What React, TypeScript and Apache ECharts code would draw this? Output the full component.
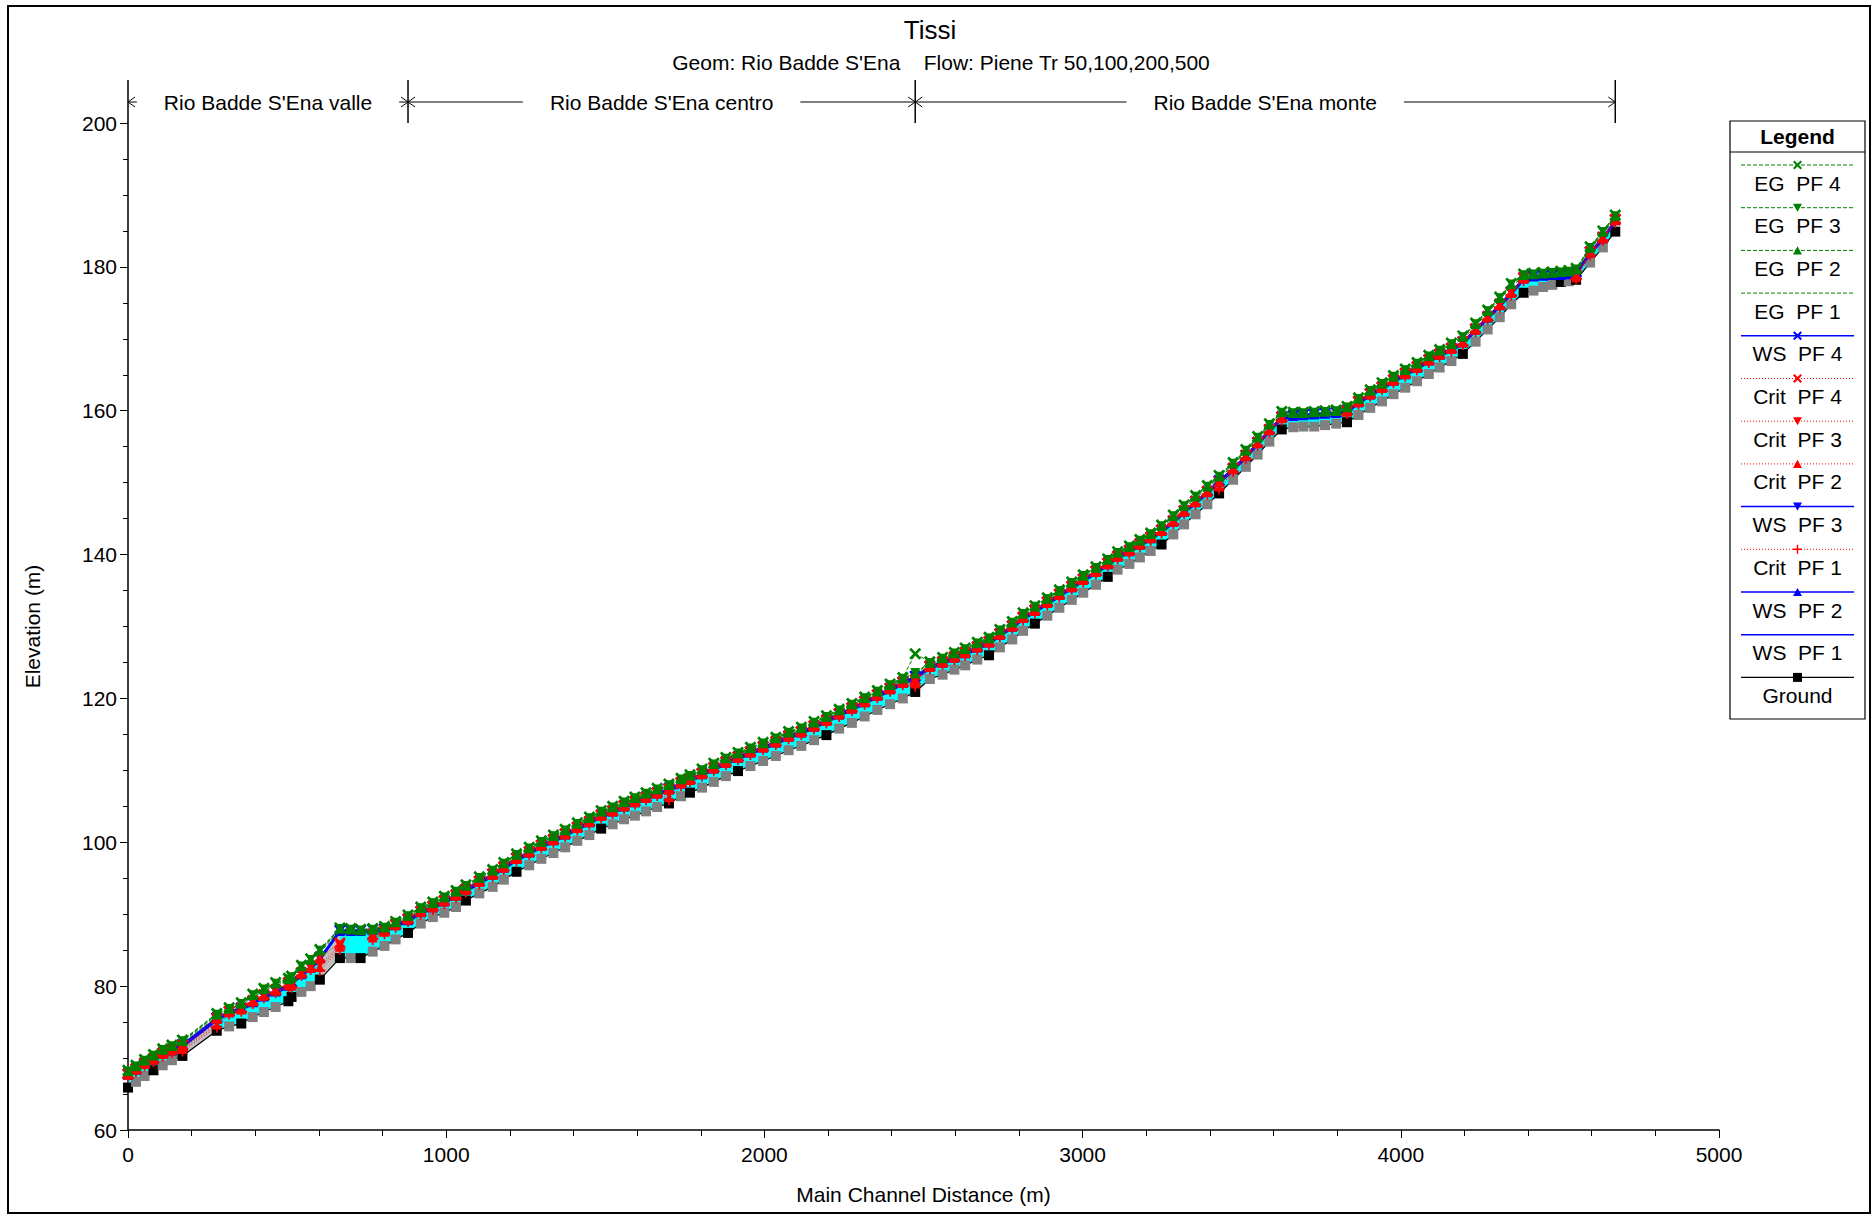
import { useEffect, useRef } from "react";
import * as echarts from "echarts";

// ---------------- DATA ----------------
const titleText = "Tissi";
const subtitleText = "Geom: Rio Badde S'Ena    Flow: Piene Tr 50,100,200,500";
const xAxisName = "Main Channel Distance (m)";
const yAxisName = "Elevation (m)";
const xMin = 0, xMax = 5000, xInterval = 1000;
const yMin = 60, yMax = 200, yInterval = 20;

const reachBounds = [0, 880, 2474, 4674];
const reachNames = ["Rio Badde S'Ena valle", "Rio Badde S'Ena centro", "Rio Badde S'Ena monte"];

const stations = [0,25,52,80,109,138,171,279,318,356,392,427,464,504,514,545,574,603,666,700,731,769,806,841,880,920,958,994,1031,1062,1104,1146,1181,1221,1261,1299,1337,1374,1412,1450,1487,1523,1559,1593,1628,1663,1700,1738,1766,1804,1841,1879,1917,1956,1996,2036,2076,2116,2156,2195,2235,2275,2315,2355,2395,2435,2474,2520,2560,2597,2631,2669,2706,2740,2779,2813,2850,2889,2927,2966,3002,3042,3079,3110,3147,3180,3214,3248,3285,3319,3355,3392,3429,3473,3513,3550,3587,3626,3662,3694,3728,3762,3797,3831,3867,3904,3941,3977,4014,4051,4088,4122,4159,4195,4235,4273,4311,4347,4386,4417,4447,4476,4503,4528,4551,4595,4635,4674];

const surveyed = [0,80,171,279,356,504,514,603,666,731,880,1062,1221,1487,1700,1766,1917,2195,2474,2706,2850,3079,3248,3429,3626,3831,4195,4386,4503,4551,4674];

// reaches between sections drawn with a grey (non-cyan) fill
const greySegments = [[171, 279], [603, 666]];

const ground = [65.9,66.7,67.5,68.3,69.0,69.7,70.3,73.8,74.4,74.8,75.7,76.4,77.1,77.9,78.5,79.2,80.0,80.9,83.9,83.9,83.9,84.8,85.6,86.5,87.4,88.7,89.6,90.2,91.0,91.9,92.9,93.8,94.8,95.9,96.8,97.7,98.5,99.3,100.2,101.0,101.9,102.5,103.2,103.7,104.3,104.9,105.4,106.4,106.9,107.6,108.4,109.2,109.9,110.6,111.3,112.0,112.8,113.4,114.2,114.9,115.8,116.6,117.5,118.4,119.2,120.0,120.9,122.7,123.3,124.0,124.6,125.4,126.0,127.1,128.2,129.4,130.4,131.5,132.6,133.7,134.7,135.8,136.9,137.9,138.7,139.6,140.5,141.4,142.8,144.2,145.6,147.0,148.5,150.4,152.2,153.9,155.7,157.4,157.7,157.8,157.8,158.0,158.2,158.4,159.4,160.4,161.3,162.3,163.2,164.1,165.1,166.0,166.9,167.9,169.6,171.3,173.0,174.8,176.4,176.7,177.2,177.5,177.9,178.0,178.2,180.6,182.7,184.9];

const wsPF4 = [67.8,68.5,69.3,69.9,70.7,71.2,71.9,75.6,76.5,77.0,77.9,78.7,79.4,80.2,80.6,81.8,82.7,84.0,87.8,87.8,87.8,87.9,88.0,88.6,89.3,90.4,91.1,91.9,92.7,93.5,94.6,95.6,96.6,97.8,98.7,99.6,100.4,101.2,102.1,102.9,103.8,104.4,105.1,105.7,106.3,106.9,107.5,108.3,108.8,109.6,110.4,111.2,111.9,112.6,113.3,114.0,114.8,115.4,116.2,117.0,117.9,118.7,119.6,120.5,121.4,122.3,123.1,124.5,125.1,125.8,126.4,127.2,127.9,129.0,130.1,131.3,132.3,133.4,134.5,135.6,136.6,137.7,138.8,139.8,140.6,141.5,142.4,143.4,144.7,146.1,147.4,148.8,150.3,152.0,153.8,155.6,157.4,159.2,159.4,159.5,159.6,159.7,159.8,160.1,161.3,162.4,163.3,164.3,165.2,166.1,167.1,167.9,168.7,169.6,171.4,173.1,174.8,176.5,178.5,178.8,178.9,179.0,179.0,179.1,179.3,182.1,184.1,186.6];
const wsPF3 = [67.7,68.4,69.2,69.8,70.6,71.1,71.8,75.5,76.4,76.9,77.8,78.6,79.3,80.1,80.5,81.7,82.6,83.9,87.7,87.7,87.7,87.8,87.9,88.5,89.2,90.3,91.0,91.8,92.6,93.4,94.5,95.5,96.5,97.7,98.6,99.5,100.3,101.1,102.0,102.8,103.7,104.3,105.0,105.6,106.2,106.8,107.4,108.2,108.7,109.5,110.3,111.1,111.8,112.5,113.2,113.9,114.7,115.3,116.1,116.9,117.8,118.6,119.5,120.4,121.3,122.2,123.0,124.4,125.0,125.7,126.3,127.1,127.8,128.9,130.0,131.2,132.2,133.3,134.4,135.5,136.5,137.6,138.7,139.7,140.5,141.4,142.3,143.3,144.6,146.0,147.3,148.7,150.2,151.9,153.7,155.5,157.3,159.1,159.3,159.4,159.5,159.6,159.7,160.0,161.2,162.3,163.2,164.2,165.1,166.0,167.0,167.8,168.6,169.5,171.3,173.0,174.7,176.4,178.4,178.7,178.8,178.9,178.9,179.0,179.2,182.0,184.0,186.5];
const wsPF2 = [67.6,68.3,69.1,69.7,70.5,71.0,71.7,75.4,76.3,76.8,77.7,78.5,79.2,80.0,80.4,81.6,82.5,83.8,87.6,87.6,87.6,87.7,87.8,88.4,89.1,90.2,90.9,91.7,92.5,93.3,94.4,95.4,96.4,97.6,98.5,99.4,100.2,101.0,101.9,102.7,103.6,104.2,104.9,105.5,106.1,106.7,107.3,108.1,108.6,109.4,110.2,111.0,111.7,112.4,113.1,113.8,114.6,115.2,116.0,116.8,117.7,118.5,119.4,120.3,121.2,122.1,122.9,124.3,124.9,125.6,126.2,127.0,127.7,128.8,129.9,131.1,132.1,133.2,134.3,135.4,136.4,137.5,138.6,139.6,140.4,141.3,142.2,143.2,144.5,145.9,147.2,148.6,150.1,151.8,153.6,155.4,157.2,159.0,159.2,159.3,159.4,159.5,159.6,159.9,161.1,162.2,163.1,164.1,165.0,165.9,166.9,167.7,168.5,169.4,171.2,172.9,174.6,176.3,178.3,178.6,178.7,178.8,178.8,178.9,179.1,181.9,183.9,186.4];
const wsPF1 = [67.4,68.1,68.9,69.5,70.3,70.8,71.5,75.2,76.1,76.6,77.5,78.3,79.0,79.8,80.2,81.4,82.3,83.6,87.5,87.5,87.5,87.6,87.7,88.2,88.9,90.0,90.7,91.5,92.3,93.1,94.2,95.2,96.2,97.4,98.3,99.2,100.0,100.8,101.7,102.5,103.4,104.0,104.7,105.3,105.9,106.5,107.1,107.9,108.4,109.2,110.0,110.8,111.5,112.2,112.9,113.6,114.4,115.0,115.8,116.6,117.5,118.3,119.2,120.1,121.0,121.9,122.7,124.1,124.7,125.4,126.0,126.8,127.5,128.6,129.7,130.9,131.9,133.0,134.1,135.2,136.2,137.3,138.4,139.4,140.2,141.1,142.0,143.0,144.3,145.7,147.0,148.4,149.9,151.6,153.4,155.2,157.0,158.8,159.1,159.2,159.3,159.4,159.5,159.7,160.9,162.0,162.9,163.9,164.8,165.7,166.7,167.5,168.3,169.2,171.0,172.7,174.4,176.1,178.1,178.5,178.6,178.7,178.7,178.8,178.9,181.7,183.7,186.2];

const egPF4 = [68.3,69.0,69.8,70.5,71.3,71.8,72.5,76.2,77.0,77.7,78.9,79.7,80.5,81.1,81.4,82.9,83.8,85.1,88.1,88.0,87.9,88.0,88.3,89.0,89.9,91.0,91.7,92.5,93.3,94.1,95.2,96.2,97.2,98.4,99.3,100.2,101.0,101.8,102.7,103.5,104.4,105.0,105.7,106.3,106.9,107.5,108.1,108.9,109.4,110.2,111.0,111.8,112.5,113.2,113.9,114.6,115.4,116.0,116.8,117.6,118.5,119.3,120.2,121.1,122.0,122.9,126.2,125.1,125.7,126.4,127.0,127.8,128.5,129.6,130.7,131.9,132.9,134.0,135.1,136.2,137.2,138.3,139.4,140.4,141.2,142.1,143.0,144.1,145.5,146.9,148.2,149.6,151.0,152.8,154.6,156.4,158.2,159.9,159.8,159.8,159.9,160.0,160.1,160.6,161.8,162.9,163.9,164.9,165.8,166.7,167.7,168.5,169.4,170.4,172.2,174.0,175.8,177.7,179.0,179.1,179.2,179.3,179.4,179.5,179.8,182.8,185.0,187.2];
const egPF3 = [68.2,68.9,69.7,70.4,71.2,71.7,72.4,76.1,76.9,77.6,78.8,79.6,80.4,81.0,81.3,82.8,83.7,85.0,88.0,87.9,87.8,87.9,88.2,88.9,89.8,90.9,91.6,92.4,93.2,94.0,95.1,96.1,97.1,98.3,99.2,100.1,100.9,101.7,102.6,103.4,104.3,104.9,105.6,106.2,106.8,107.4,108.0,108.8,109.3,110.1,110.9,111.7,112.4,113.1,113.8,114.5,115.3,115.9,116.7,117.5,118.4,119.2,120.1,121.0,121.9,122.8,123.6,125.0,125.6,126.3,126.9,127.7,128.4,129.5,130.6,131.8,132.8,133.9,135.0,136.1,137.1,138.2,139.3,140.3,141.1,142.0,142.9,144.0,145.4,146.8,148.1,149.5,150.9,152.7,154.5,156.3,158.1,159.8,159.7,159.7,159.8,159.9,160.0,160.5,161.7,162.8,163.8,164.8,165.7,166.6,167.6,168.4,169.3,170.3,172.1,173.9,175.7,177.6,178.9,179.0,179.1,179.2,179.3,179.4,179.7,182.7,184.9,187.1];
const egPF2 = [68.1,68.8,69.6,70.3,71.1,71.6,72.3,76.0,76.8,77.5,78.7,79.5,80.3,80.9,81.2,82.7,83.6,84.9,87.9,87.8,87.7,87.8,88.1,88.8,89.7,90.8,91.5,92.3,93.1,93.9,95.0,96.0,97.0,98.2,99.1,100.0,100.8,101.6,102.5,103.3,104.2,104.8,105.5,106.1,106.7,107.3,107.9,108.7,109.2,110.0,110.8,111.6,112.3,113.0,113.7,114.4,115.2,115.8,116.6,117.4,118.3,119.1,120.0,120.9,121.8,122.7,123.4,124.9,125.5,126.2,126.8,127.6,128.3,129.4,130.5,131.7,132.7,133.8,134.9,136.0,137.0,138.1,139.2,140.2,141.0,141.9,142.8,143.9,145.3,146.7,148.0,149.4,150.8,152.6,154.4,156.2,158.0,159.7,159.6,159.6,159.7,159.8,159.9,160.4,161.6,162.7,163.7,164.7,165.6,166.5,167.5,168.3,169.2,170.2,172.0,173.8,175.6,177.5,178.8,178.9,179.0,179.1,179.2,179.3,179.6,182.6,184.8,187.0];
const egPF1 = [67.9,68.6,69.4,70.1,70.9,71.4,72.1,75.8,76.6,77.3,78.5,79.3,80.1,80.7,81.0,82.5,83.4,84.7,87.7,87.6,87.5,87.6,87.9,88.6,89.5,90.6,91.3,92.1,92.9,93.7,94.8,95.8,96.8,98.0,98.9,99.8,100.6,101.4,102.3,103.1,104.0,104.6,105.3,105.9,106.5,107.1,107.7,108.5,109.0,109.8,110.6,111.4,112.1,112.8,113.5,114.2,115.0,115.6,116.4,117.2,118.1,118.9,119.8,120.7,121.6,122.5,123.1,124.7,125.3,126.0,126.6,127.4,128.1,129.2,130.3,131.5,132.5,133.6,134.7,135.8,136.8,137.9,139.0,140.0,140.8,141.7,142.6,143.7,145.1,146.5,147.8,149.2,150.6,152.4,154.2,156.0,157.8,159.5,159.4,159.4,159.5,159.6,159.7,160.2,161.4,162.5,163.5,164.5,165.4,166.3,167.3,168.1,169.0,170.0,171.8,173.6,175.4,177.3,178.6,178.7,178.8,178.9,179.0,179.1,179.4,182.4,184.6,186.8];

const critPF4 = [67.8,68.5,69.3,69.9,70.7,71.2,71.8,75.5,76.5,76.9,78.0,78.8,79.5,80.5,80.4,81.9,82.7,84.0,86.0,null,null,87.2,87.7,88.6,89.4,90.4,91.1,91.9,92.7,93.5,94.6,95.6,96.6,97.8,98.7,99.6,100.4,101.2,102.1,102.9,103.8,104.4,105.1,105.7,106.3,106.9,107.4,108.3,108.8,109.6,110.4,111.2,111.9,112.6,113.3,114.0,114.8,115.4,116.2,117.0,117.9,118.7,119.6,120.5,121.4,122.3,122.6,124.5,125.1,125.8,126.4,127.2,127.9,129.0,130.1,131.3,132.3,133.4,134.5,135.6,136.6,137.7,138.8,139.8,140.6,141.5,142.4,143.4,144.7,146.1,147.4,148.8,150.1,152.0,153.8,155.6,157.4,159.1,null,null,null,null,null,160.0,161.3,162.4,163.3,164.3,165.2,166.1,167.1,167.9,168.7,169.6,171.4,173.1,174.8,176.5,178.5,null,null,null,null,null,178.9,182.1,184.1,186.6];
const critPF3 = [67.7,68.4,69.2,69.8,70.6,71.1,71.4,74.9,76.4,76.8,77.9,78.7,79.4,80.3,80.2,81.8,82.6,83.0,85.7,null,null,86.9,87.6,88.5,89.3,90.3,91.0,91.8,92.6,93.4,94.5,95.5,96.5,97.7,98.6,99.5,100.3,101.1,102.0,102.8,103.7,104.3,105.0,105.6,106.2,106.8,106.6,108.2,108.7,109.5,110.3,111.1,111.8,112.5,113.2,113.9,114.7,115.3,116.1,116.9,117.8,118.6,119.5,120.4,121.3,122.2,122.3,124.4,125.0,125.7,126.3,127.1,127.8,128.9,130.0,131.2,132.2,133.3,134.4,135.5,136.5,137.6,138.7,139.7,140.5,141.4,142.3,143.3,144.6,146.0,147.3,148.7,149.7,151.9,153.7,155.5,157.3,159.0,null,null,null,null,null,159.9,161.2,162.3,163.2,164.2,165.1,166.0,167.0,167.8,168.6,169.5,171.3,173.0,174.7,176.4,178.4,null,null,null,null,null,178.7,182.0,184.0,186.5];
const critPF2 = [67.6,68.3,69.1,69.7,70.5,71.0,71.2,74.6,76.3,76.7,77.8,78.6,79.3,80.1,80.0,81.7,82.5,82.6,85.4,null,null,86.7,87.5,88.4,89.2,90.2,90.9,91.7,92.5,93.3,94.4,95.4,96.4,97.6,98.5,99.4,100.2,101.0,101.9,102.7,103.6,104.2,104.9,105.5,106.1,106.7,106.2,108.1,108.6,109.4,110.2,111.0,111.7,112.4,113.1,113.8,114.6,115.2,116.0,116.8,117.7,118.5,119.4,120.3,121.2,122.1,122.0,124.3,124.9,125.6,126.2,127.0,127.7,128.8,129.9,131.1,132.1,133.2,134.3,135.4,136.4,137.5,138.6,139.6,140.4,141.3,142.2,143.2,144.5,145.9,147.2,148.6,149.4,151.8,153.6,155.4,157.2,158.9,null,null,null,null,null,159.8,161.1,162.2,163.1,164.1,165.0,165.9,166.9,167.7,168.5,169.4,171.2,172.9,174.6,176.3,178.3,null,null,null,null,null,178.5,181.9,183.9,186.4];
const critPF1 = [67.4,68.1,68.9,69.5,70.3,70.8,71.0,74.3,76.1,76.5,77.6,78.4,79.1,79.9,79.8,81.5,82.3,82.2,85.1,null,null,86.5,87.3,88.2,89.0,90.0,90.7,91.5,92.3,93.1,94.2,95.2,96.2,97.4,98.3,99.2,100.0,100.8,101.7,102.5,103.4,104.0,104.7,105.3,105.9,106.5,105.9,107.9,108.4,109.2,110.0,110.8,111.5,112.2,112.9,113.6,114.4,115.0,115.8,116.6,117.5,118.3,119.2,120.1,121.0,121.9,121.7,124.1,124.7,125.4,126.0,126.8,127.5,128.6,129.7,130.9,131.9,133.0,134.1,135.2,136.2,137.3,138.4,139.4,140.2,141.1,142.0,143.0,144.3,145.7,147.0,148.4,149.1,151.6,153.4,155.2,157.0,158.7,null,null,null,null,null,159.6,160.9,162.0,162.9,163.9,164.8,165.7,166.7,167.5,168.3,169.2,171.0,172.7,174.4,176.1,178.1,null,null,null,null,null,178.3,181.7,183.7,186.2];

// ---------------- STYLE ----------------
const FONT = '"Liberation Sans", Arial, Helvetica, sans-serif';
const FS = 21;
const GREEN = "#008000";
const BLUE = "#0000ff";
const RED = "#ff0000";
const CYAN = "#00ffff";
const GREY_FILL = "#c0c0c0";

const X_PTS = [[0,1.6],[1.6,0],[5,3.4],[8.4,0],[10,1.6],[6.6,5],[10,8.4],[8.4,10],[5,6.6],[1.6,10],[0,8.4],[3.4,5]];
const PLUS_PTS = [[4.2,0],[5.8,0],[5.8,4.2],[10,4.2],[10,5.8],[5.8,5.8],[5.8,10],[4.2,10],[4.2,5.8],[0,5.8],[0,4.2],[4.2,4.2]];
const DOWN_PTS = [[0,0.5],[10,0.5],[5,9.5]];
const UP_PTS = [[5,0.5],[10,9.5],[0,9.5]];
const toPath = (pts: number[][]) => "path://" + pts.map((p, i) => (i ? "L" : "M") + p[0] + "," + p[1]).join("") + "Z";
const SYM: Record<string, string> = {
  x: toPath(X_PTS),
  plus: toPath(PLUS_PTS),
  down: toPath(DOWN_PTS),
  up: toPath(UP_PTS),
  square: "rect",
  none: "none",
};
const SYM_SIZE: Record<string, number> = { x: 12, plus: 11, down: 10, up: 10, square: 10, none: 0 };
const SHAPE_PTS: Record<string, number[][]> = { x: X_PTS, plus: PLUS_PTS, down: DOWN_PTS, up: UP_PTS };

type Def = { name: string; data: (number | null)[]; color: string; dash: string; shape: string; width: number };

// legend order (top to bottom)
const legendDefs: Def[] = [
  { name: "EG  PF 4", data: egPF4, color: GREEN, dash: "dashed", shape: "x", width: 1 },
  { name: "EG  PF 3", data: egPF3, color: GREEN, dash: "dashed", shape: "down", width: 1 },
  { name: "EG  PF 2", data: egPF2, color: GREEN, dash: "dashed", shape: "up", width: 1 },
  { name: "EG  PF 1", data: egPF1, color: GREEN, dash: "dashed", shape: "none", width: 1 },
  { name: "WS  PF 4", data: wsPF4, color: BLUE, dash: "solid", shape: "x", width: 1.5 },
  { name: "Crit  PF 4", data: critPF4, color: RED, dash: "dotted", shape: "x", width: 1 },
  { name: "Crit  PF 3", data: critPF3, color: RED, dash: "dotted", shape: "down", width: 1 },
  { name: "Crit  PF 2", data: critPF2, color: RED, dash: "dotted", shape: "up", width: 1 },
  { name: "WS  PF 3", data: wsPF3, color: BLUE, dash: "solid", shape: "down", width: 1.5 },
  { name: "Crit  PF 1", data: critPF1, color: RED, dash: "dotted", shape: "plus", width: 1 },
  { name: "WS  PF 2", data: wsPF2, color: BLUE, dash: "solid", shape: "up", width: 1.5 },
  { name: "WS  PF 1", data: wsPF1, color: BLUE, dash: "solid", shape: "none", width: 1.5 },
  { name: "Ground", data: ground, color: "#000000", dash: "solid", shape: "square", width: 1.2 },
];

const dashArr = (d: string) => (d === "dashed" ? [4, 2] : d === "dotted" ? [1, 2] : undefined);

function lineSeries(def: Def, z: number) {
  return {
    type: "line",
    name: def.name,
    data: stations.map((x, i) => [x, def.data[i] == null ? "-" : def.data[i]]),
    showAllSymbol: true,
    symbol: SYM[def.shape],
    symbolSize: SYM_SIZE[def.shape],
    symbolKeepAspect: true,
    connectNulls: false,
    lineStyle: { color: def.color, width: def.width, type: dashArr(def.dash) || "solid" },
    itemStyle: { color: def.color, borderWidth: 0 },
    z,
    silent: true,
  };
}

function markerGraphic(shape: string, cx: number, cy: number, size: number, color: string) {
  if (shape === "none") return null;
  if (shape === "square") {
    return { type: "rect", shape: { x: cx - size / 2, y: cy - size / 2, width: size, height: size }, style: { fill: color } };
  }
  const pts = SHAPE_PTS[shape].map((p) => [cx - size / 2 + (p[0] * size) / 10, cy - size / 2 + (p[1] * size) / 10]);
  return { type: "polygon", shape: { points: pts }, style: { fill: color } };
}

function measure(text: string, size: number) {
  const c = document.createElement("canvas").getContext("2d");
  if (!c) return text.length * size * 0.5;
  c.font = `${size}px "Liberation Sans", Arial, sans-serif`;
  return c.measureText(text).width;
}

export default function App() {
  const ref = useRef<HTMLDivElement>(null);

  useEffect(() => {
    document.body.style.margin = "0";
    if (!ref.current) return;
    const chart = echarts.init(ref.current, null, { renderer: "svg" });

    const wsDef = legendDefs.find((d) => d.name === "WS  PF 4")!;
    const groundDef = legendDefs[legendDefs.length - 1];

    const series: any[] = [];
    // water fill between ground and WS PF 4 (polygon through the chart's scales)
    series.push({
      type: "custom",
      name: "_water",
      data: [[stations[0], ground[0]]],
      encode: { x: 0, y: 1 },
      silent: true,
      z: 1,
      renderItem: (_params: any, api: any) => {
        const top = stations.map((x, i) => api.coord([x, wsDef.data[i]]));
        const bot = stations.map((x, i) => api.coord([x, ground[i]])).reverse();
        const children: any[] = [
          { type: "polygon", shape: { points: top.concat(bot) }, style: { fill: CYAN } },
        ];
        greySegments.forEach(([a, b]) => {
          const ia = stations.indexOf(a);
          const ib = stations.indexOf(b);
          if (ia < 0 || ib < 0) return;
          children.push({
            type: "polygon",
            shape: {
              points: [
                api.coord([a, wsDef.data[ia]]),
                api.coord([b, wsDef.data[ib]]),
                api.coord([b, ground[ib]]),
                api.coord([a, ground[ia]]),
              ],
            },
            style: { fill: GREY_FILL },
          });
        });
        return { type: "group", children };
      },
    });
    // ground with black (surveyed) / grey (interpolated) squares
    const gs = lineSeries(groundDef, 3) as any;
    gs.data = stations.map((x, i) => ({
      value: [x, ground[i]],
      itemStyle: { color: surveyed.includes(x) ? "#000000" : "#808080" },
    }));
    series.push(gs);
    const drawOrder = [
      "WS  PF 1", "WS  PF 2", "WS  PF 3", "WS  PF 4",
      "Crit  PF 1", "Crit  PF 2", "Crit  PF 3", "Crit  PF 4",
      "EG  PF 1", "EG  PF 2", "EG  PF 3", "EG  PF 4",
    ];
    drawOrder.forEach((n, k) => {
      const d = legendDefs.find((q) => q.name === n)!;
      series.push(lineSeries(d, 4 + k));
    });

    const axisText = { color: "#000", fontSize: FS, fontFamily: FONT };

    chart.setOption({
      animation: false,
      backgroundColor: "#ffffff",
      grid: { left: 128, top: 123, right: 157, bottom: 86, containLabel: false },
      xAxis: {
        type: "value",
        min: xMin,
        max: xMax,
        interval: xInterval,
        name: xAxisName,
        nameLocation: "middle",
        nameGap: 54,
        nameTextStyle: axisText,
        axisLine: { show: true, onZero: false, lineStyle: { color: "#000", width: 1.5 } },
        axisTick: { show: true, inside: false, length: 8, lineStyle: { color: "#000", width: 1 } },
        minorTick: { show: true, splitNumber: 5, length: 6, lineStyle: { color: "#000", width: 1 } },
        axisLabel: { ...axisText, margin: 14, formatter: (v: number) => String(v) },
        splitLine: { show: false },
      },
      yAxis: {
        type: "value",
        min: yMin,
        max: yMax,
        interval: yInterval,
        name: yAxisName,
        nameLocation: "middle",
        nameGap: 85,
        nameTextStyle: axisText,
        axisLine: { show: true, onZero: false, lineStyle: { color: "#000", width: 1.5 } },
        axisTick: { show: true, inside: false, length: 8, lineStyle: { color: "#000", width: 1 } },
        minorTick: { show: true, splitNumber: 4, length: 5, lineStyle: { color: "#000", width: 1 } },
        axisLabel: { ...axisText, margin: 11, formatter: (v: number) => String(v) },
        splitLine: { show: false },
      },
      legend: { show: false },
      tooltip: { show: false },
      series,
    });

    // ---------- graphics (title, reach annotations, legend, frame) ----------
    const g: any[] = [];
    g.push({
      type: "rect",
      shape: { x: 8, y: 6, width: 1862, height: 1207 },
      style: { fill: "none", stroke: "#000", lineWidth: 2 },
      silent: true,
    });
    g.push({ type: "text", x: 930, y: 30, style: { text: titleText, fontSize: 26, fontFamily: FONT, fill: "#000", align: "center", verticalAlign: "middle" } });
    g.push({ type: "text", x: 941, y: 62, style: { text: subtitleText, fontSize: FS, fontFamily: FONT, fill: "#000", align: "center", verticalAlign: "middle" } });

    // reach annotations placed with the chart's own scale
    const yTopPx = chart.convertToPixel({ gridIndex: 0 }, [xMin, yMax])[1];
    const arrowY = 102;
    const bx = reachBounds.map((b) => chart.convertToPixel({ gridIndex: 0 }, [b, yMax])[0]);
    bx.forEach((px) => {
      g.push({ type: "line", shape: { x1: px, y1: 80, x2: px, y2: yTopPx }, style: { stroke: "#000", lineWidth: 1.5 } });
    });
    reachNames.forEach((name, j) => {
      const L = bx[j];
      const R = bx[j + 1];
      const C = (L + R) / 2;
      const w = measure(name, FS);
      const gap = 27;
      const l1 = C - w / 2 - gap;
      const r1 = C + w / 2 + gap;
      if (l1 > L + 1) g.push({ type: "line", shape: { x1: L, y1: arrowY, x2: l1, y2: arrowY }, style: { stroke: "#000", lineWidth: 1 } });
      if (r1 < R - 1) g.push({ type: "line", shape: { x1: r1, y1: arrowY, x2: R, y2: arrowY }, style: { stroke: "#000", lineWidth: 1 } });
      g.push({ type: "polyline", shape: { points: [[L + 7, arrowY - 5], [L, arrowY], [L + 7, arrowY + 5]] }, style: { stroke: "#000", lineWidth: 1, fill: "none" } });
      g.push({ type: "polyline", shape: { points: [[R - 7, arrowY - 5], [R, arrowY], [R - 7, arrowY + 5]] }, style: { stroke: "#000", lineWidth: 1, fill: "none" } });
      g.push({ type: "text", x: C, y: arrowY, style: { text: name, fontSize: FS, fontFamily: FONT, fill: "#000", align: "center", verticalAlign: "middle" } });
    });

    // legend box
    const LX = 1730, LY = 121, LW = 135, LH = 598;
    g.push({ type: "rect", shape: { x: LX, y: LY, width: LW, height: LH }, style: { fill: "#fff", stroke: "#000", lineWidth: 1.2 }, z: 50 });
    g.push({ type: "line", shape: { x1: LX, y1: 152, x2: LX + LW, y2: 152 }, style: { stroke: "#000", lineWidth: 1.2 }, z: 51 });
    g.push({ type: "text", x: LX + LW / 2, y: 136, style: { text: "Legend", fontSize: FS, fontWeight: "bold", fontFamily: FONT, fill: "#000", align: "center", verticalAlign: "middle" }, z: 51 });
    const step = 42.7;
    legendDefs.forEach((d, i) => {
      const ly = 165 + step * i;
      const ty = 183 + step * i;
      const cx = LX + LW / 2;
      g.push({
        type: "line",
        shape: { x1: 1741, y1: ly, x2: 1854, y2: ly },
        style: { stroke: d.color, lineWidth: d.width, lineDash: dashArr(d.dash) || null },
        z: 51,
      });
      const m = markerGraphic(d.shape, cx, ly, 9, d.color);
      if (m) g.push({ ...m, z: 52 });
      g.push({ type: "text", x: cx, y: ty, style: { text: d.name, fontSize: FS, fontFamily: FONT, fill: "#000", align: "center", verticalAlign: "middle" }, z: 51 });
    });

    chart.setOption({ graphic: g });

    return () => {
      chart.dispose();
    };
  }, []);

  return <div ref={ref} style={{ width: 1876, height: 1216, background: "#fff" }} />;
}
